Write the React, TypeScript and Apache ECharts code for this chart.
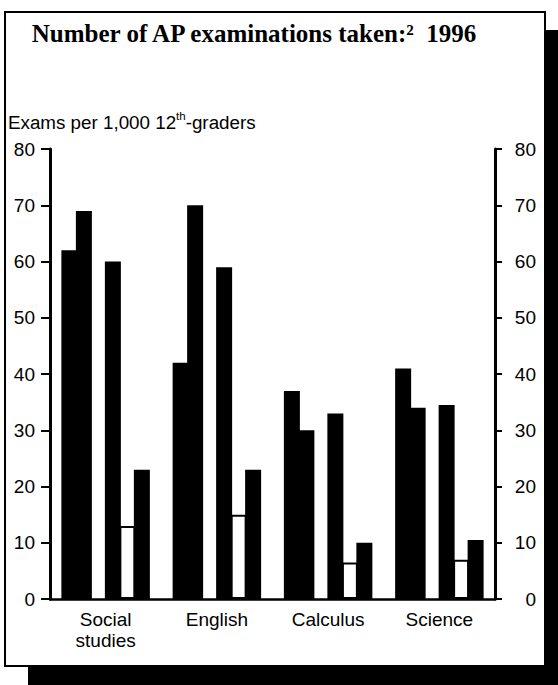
import React, { useEffect, useRef } from "react";
import * as echarts from "echarts";

const categories = ["Social\nstudies", "English", "Calculus", "Science"];
const barA = [62, 42, 37, 41];
const barB = [69, 70, 30, 34];
const barC = [60, 59, 33, 34.5];
const barD = [13, 15, 6.5, 7];
const barE = [23, 23, 10, 10.5];
const yMin = 0;
const yMax = 80;
const yStep = 10;

const SANS = "'Liberation Sans', Arial, Helvetica, sans-serif";
const SERIF = "'Liberation Serif', 'Times New Roman', serif";

export default function App() {
  const ref = useRef<HTMLDivElement>(null);
  useEffect(() => {
    if (!ref.current) return;
    const chart = echarts.init(ref.current, undefined, { renderer: "svg" });
    const black = { color: "#000" };
    const bar = (name: string, data: any[], extra: any = {}) => ({
      name,
      type: "bar",
      data,
      barWidth: 16,
      barGap: "-9.4%",
      itemStyle: black,
      ...extra,
    });
    chart.setOption({
      animation: false,
      backgroundColor: "#fff",
      graphic: [
        { type: "rect", z: -20, shape: { x: 28, y: 30, width: 560, height: 680 }, style: { fill: "#000" } },
        { type: "rect", z: -10, shape: { x: 5, y: 12, width: 540, height: 654 }, style: { fill: "#fff", stroke: "#000", lineWidth: 2 } },
        {
          type: "text",
          z: 10,
          x: 254,
          y: 33,
          style: {
            text: "Number of AP examinations taken:²  1996",
            fontFamily: SERIF,
            fontWeight: "bold",
            fontSize: 25,
            fill: "#000",
            align: "center",
            verticalAlign: "middle",
          },
        },
        {
          type: "text",
          z: 10,
          x: 8,
          y: 121,
          style: {
            text: "{a|Exams per 1,000 12}{s|th}{a|-graders}",
            verticalAlign: "middle",
            align: "left",
            rich: {
              a: { fontFamily: SANS, fontSize: 18.8, fill: "#000", color: "#000", lineHeight: 22, verticalAlign: "bottom" },
              s: { fontFamily: SANS, fontSize: 11.5, fill: "#000", color: "#000", lineHeight: 22, verticalAlign: "top" },
            },
          },
        },
      ],
      grid: { left: 50, right: 63, top: 149, bottom: 86, containLabel: false, outerBoundsMode: "none" },
      xAxis: {
        type: "category",
        data: categories,
        axisLine: { lineStyle: { color: "#000", width: 2.5 } },
        axisTick: { show: false },
        axisLabel: { color: "#000", fontFamily: SANS, fontSize: 19, lineHeight: 21, margin: 10, interval: 0 },
        splitLine: { show: false },
      },
      yAxis: [
        {
          type: "value",
          position: "left",
          min: yMin,
          max: yMax,
          interval: yStep,
          axisLine: { show: true, lineStyle: { color: "#000", width: 3 } },
          axisTick: { show: true, length: 9, lineStyle: { color: "#000", width: 2 } },
          axisLabel: { color: "#000", fontFamily: SANS, fontSize: 19, margin: 15 },
          splitLine: { show: false },
        },
        {
          type: "value",
          position: "right",
          min: yMin,
          max: yMax,
          interval: yStep,
          axisLine: { show: true, lineStyle: { color: "#000", width: 3 } },
          axisTick: { show: true, length: 7, lineStyle: { color: "#000", width: 2 } },
          axisLabel: { color: "#000", fontFamily: SANS, fontSize: 19, margin: 41, align: "right" },
          splitLine: { show: false },
        },
      ],
      series: [
        bar("A", barA),
        bar("B", barB),
        bar("gap", []),
        bar("C", barC),
        bar("D", barD, { z: 1, itemStyle: { color: "#fff", borderColor: "#000", borderWidth: 2 } }),
        bar("E", barE),
      ],
    });
    return () => chart.dispose();
  }, []);
  return (
    <div
      ref={ref}
      style={{ position: "absolute", left: 0, top: 0, width: 558, height: 685, background: "#fff" }}
    />
  );
}
